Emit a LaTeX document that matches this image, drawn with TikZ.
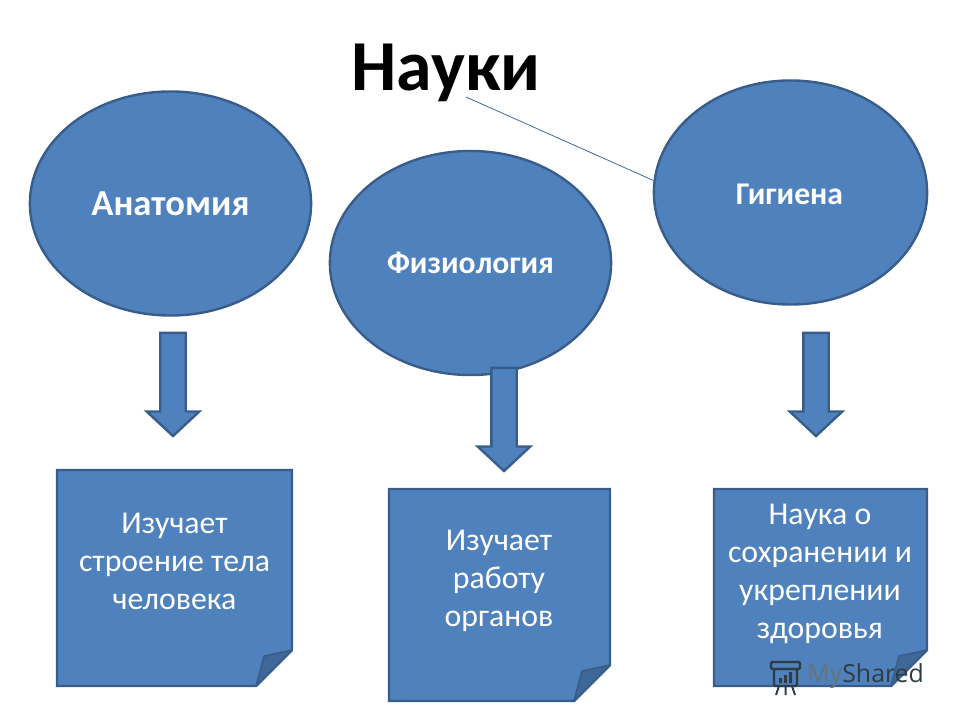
\documentclass[tikz,border=0pt]{standalone}
\usepackage{fontspec}
\setmainfont{Carlito}
\newfontfamily\markfont{Open Sans}
\usepackage{xcolor}
\usetikzlibrary{arrows.meta,positioning,calc,shapes.geometric,shapes.arrows,backgrounds}
\definecolor{blfill}{HTML}{4F81BD}
\definecolor{bledge}{HTML}{385D8A}
\definecolor{blfold}{HTML}{3F6797}
\definecolor{markdark}{HTML}{2F3B45}
\definecolor{markgray}{HTML}{66727C}
\tikzset{
  scibubble/.style = {ellipse, draw=bledge, fill=blfill, line width=0.06cm, inner sep=0pt,
                       minimum height=5.6cm, font=\bfseries\color{white}},
  downarrow/.style = {single arrow, draw=bledge, fill=blfill, line width=0.06cm, inner sep=0.2875cm,
                       shape border rotate=270, minimum height=2.58cm,
                       single arrow head extend=0.34cm, single arrow tip angle=94},
  sheet/.style     = {rectangle, inner sep=0pt, outer sep=0pt},
  sheettext/.style = {align=center, text=white, font=\fontsize{22.6}{27}\selectfont},
  sheetedge/.style = {draw=bledge, fill=blfill, line width=0.06cm},
  sheetfold/.style = {draw=bledge, fill=blfold, line width=0.04cm},
}

\begin{document}
\begin{tikzpicture}[x=0.025cm,y=-0.025cm]
\useasboundingbox (0,0) rectangle (960,720);

\node[font=\fontsize{51}{54}\selectfont\bfseries] (title) at (446,73) {Науки};
\coordinate (titlefoot) at (466,97);

\node[scibubble, minimum width=7.03cm, font=\fontsize{26}{28}\selectfont\bfseries\color{white}] (anat) at (170.5,203.5) {Анатомия};
\node[scibubble, minimum width=7.03cm, font=\fontsize{22.5}{24}\selectfont\bfseries\color{white}] (phys) at (470.5,263) {Физиология};
\node[scibubble, minimum width=6.83cm] (hyg)  at (790.5,192.5) {};
\node[font=\fontsize{22.5}{24}\selectfont\bfseries, text=white] (hygtext) at (789.5,194) {Гигиена};

\draw[bledge!70!blfill, line width=0.02cm] (titlefoot) -- (hyg.175);

\node[downarrow] (anatarrow) at (173,378.5) {};
\node[downarrow] (physarrow) at (504,413.5) {};
\node[downarrow] (hygarrow)  at (816,378.5) {};

\node[sheet, minimum width=5.875cm, minimum height=5.4cm] (anatbox) at (174.5,578) {};
\node[sheet, minimum width=5.525cm, minimum height=5.3cm] (physbox) at (499.5,595) {};
\node[sheet, minimum width=5.325cm, minimum height=4.925cm] (hygbox) at (820.5,587.5) {};

\begin{scope}[on background layer]
\foreach \n in {anatbox,physbox,hygbox} {
  \draw[sheetedge] (\n.north west) -- (\n.north east) -- ($(\n.south east)+(0,-36)$)
    -- ($(\n.south east)+(-36,0)$) -- (\n.south west) -- cycle;
  \draw[sheetfold, line join=round] ($(\n.south east)+(-36,0)$) -- ($(\n.south east)+(-28,-30)$)
    -- ($(\n.south east)+(0,-36)$) -- cycle;
}
\end{scope}

\node[sheettext] (anattext) at (174.5,561.5) {Изучает\\строение тела\\человека};
\node[sheettext] (phystext) at (499,580.5) {Изучает\\работу\\органов};
\node[sheettext] (hygtext2) at (820,574) {Наука о\\сохранении и\\укреплении\\здоровья};

% watermark
\draw[markdark, line width=0.06cm, rounded corners=1pt] (771,662) rectangle (800,669);
\draw[markdark, line width=0.06cm, rounded corners=1pt] (774,669) rectangle (797,686);
\fill[markdark] (779,678) rectangle (782,683) (784,675) rectangle (787,683) (789,672) rectangle (792,683);
\draw[markdark, line width=0.05cm] (779,686) -- (776,695) (785.5,686) -- (785.5,695) (792,686) -- (795,695);
\node[inner sep=0pt, anchor=base west, font=\markfont\fontsize{17.7}{20}\selectfont] (mark) at (807,682)
  {\textcolor{markgray}{My}\textcolor{markdark}{Shared}};
\end{tikzpicture}
\end{document}
